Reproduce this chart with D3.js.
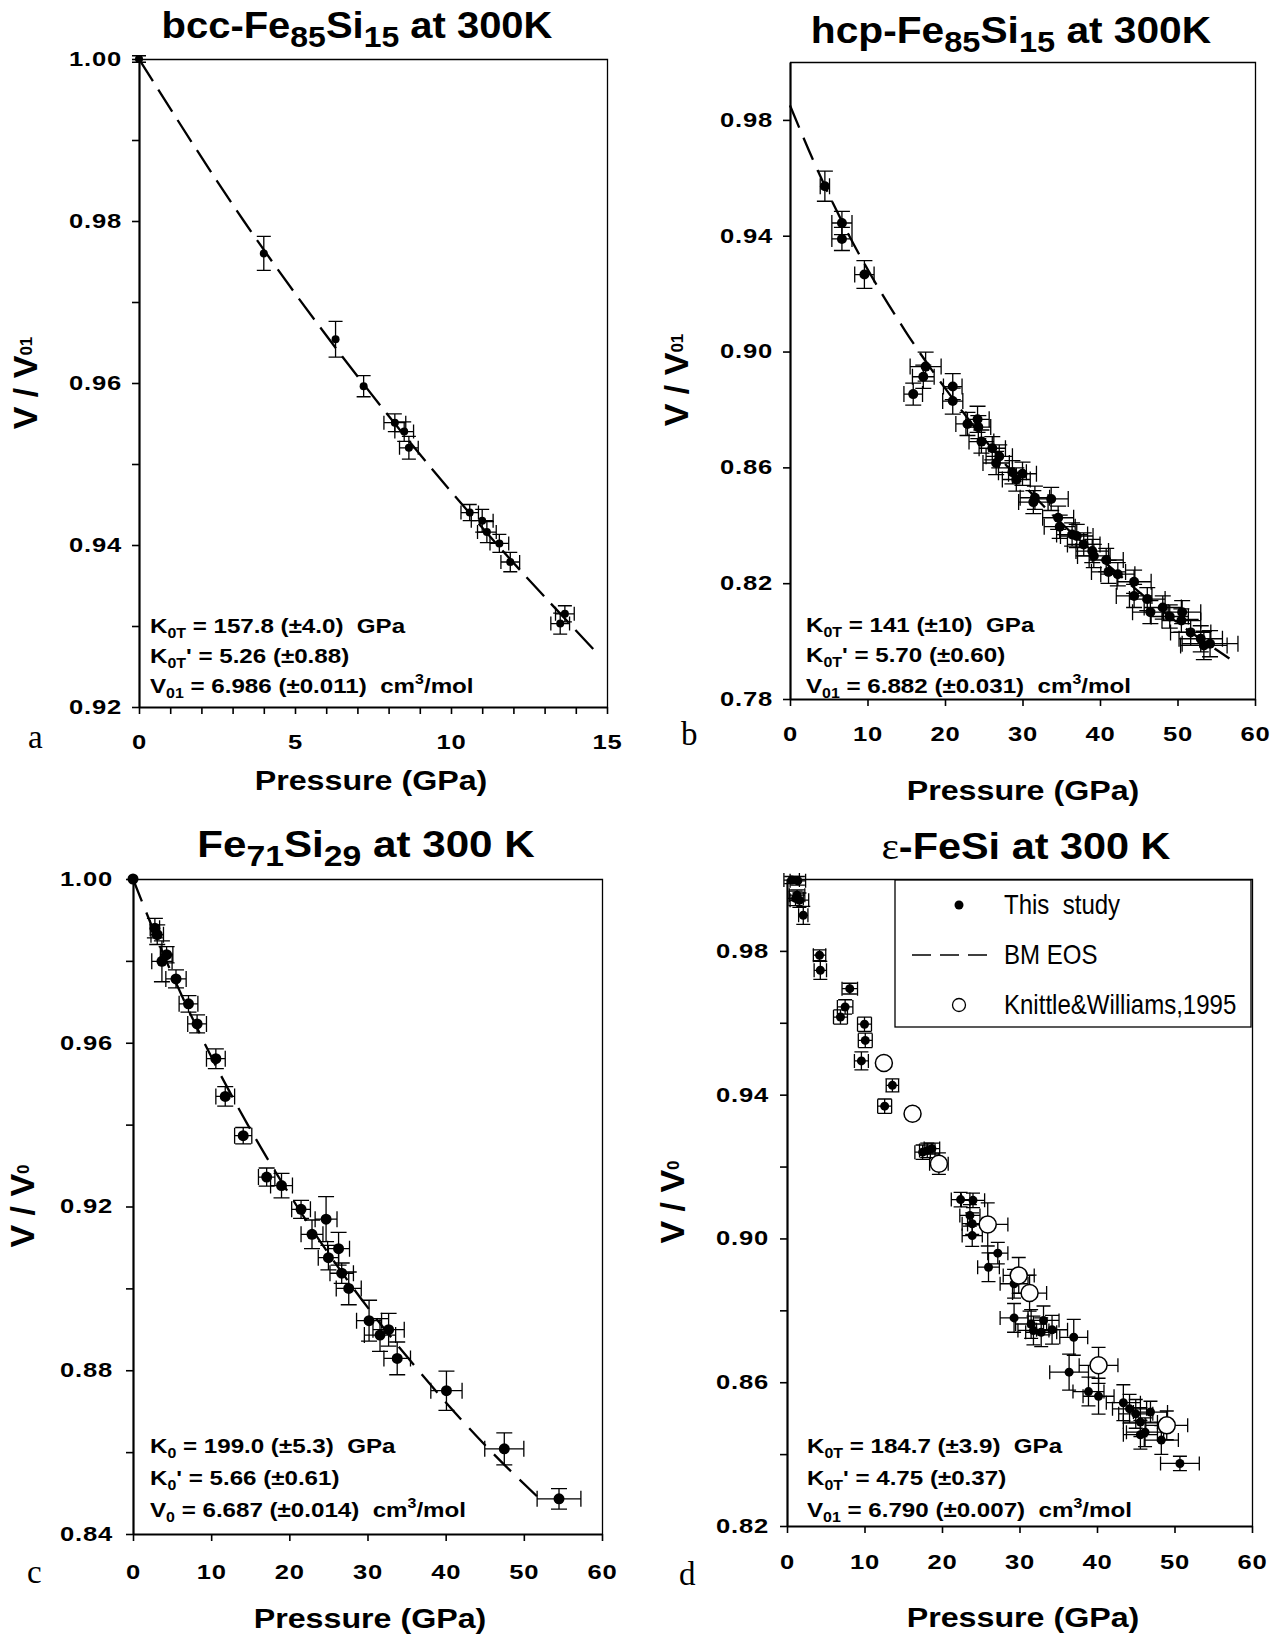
<!DOCTYPE html>
<html>
<head>
<meta charset="utf-8">
<script src="https://cdn.jsdelivr.net/npm/d3@7"></script>
<style>
  html, body { margin: 0; padding: 0; background: #fff; }
  svg { display: block; }
</style>
</head>
<body>
<script>
// ---------------- bcc-Fe85Si15 (panel a) ----------------
const bccP    = [0, 4.0, 6.3, 7.2, 8.2, 8.5, 8.65, 10.6, 11.0, 11.15, 11.55, 11.9, 13.5, 13.65];
const bccV    = [1.0000, 0.9760, 0.9654, 0.9596, 0.9551, 0.9540, 0.9520, 0.9440, 0.9430, 0.9416, 0.9402, 0.9379, 0.9303, 0.9315];
const bccPErr = [0, 0, 0, 0, 0.35, 0.3, 0.3, 0.28, 0.35, 0.3, 0.3, 0.3, 0.3, 0.3];
const bccVErr = [0.0004, 0.0021, 0.0022, 0.0013, 0.0011, 0.0012, 0.0014, 0.0010, 0.0014, 0.0013, 0.0011, 0.0012, 0.0013, 0.0010];
const bccFitP = [0, 3.36, 7.17, 11.49, 13.87, 14.6];
const bccFitV = [1.000, 0.980, 0.960, 0.940, 0.930, 0.927];
const bccXTicks = [0, 5, 10, 15];
const bccXMinor = [1, 2, 3, 4, 6, 7, 8, 9, 11, 12, 13, 14];
const bccYTicks = [0.92, 0.94, 0.96, 0.98, 1.00];
const bccYMinor = [0.93, 0.95, 0.97, 0.99];

// ---------------- hcp-Fe85Si15 (panel b) ----------------
const hcpP = [4.5, 6.7, 6.7, 9.6, 15.9, 17.2, 17.5, 21.0, 21.0, 24.2, 22.9, 24.3, 24.7, 26.1, 27.0, 26.6, 28.7, 30.0, 29.2, 31.6, 31.4, 33.7, 34.6, 34.8, 36.4, 37.0, 37.9, 39.0, 39.2, 40.8, 41.1, 42.3, 44.4, 44.4, 46.1, 46.5, 48.1, 49.0, 50.6, 50.5, 51.7, 53.0, 53.4, 54.2];
const hcpV = [0.9571, 0.9444, 0.9389, 0.9266, 0.8853, 0.8913, 0.8948, 0.8879, 0.8829, 0.8766, 0.8750, 0.8739, 0.8689, 0.8666, 0.8638, 0.8615, 0.8583, 0.8578, 0.8558, 0.8495, 0.8480, 0.8491, 0.8426, 0.8395, 0.8368, 0.8363, 0.8334, 0.8311, 0.8294, 0.8280, 0.8239, 0.8231, 0.8205, 0.8156, 0.8145, 0.8100, 0.8116, 0.8085, 0.8100, 0.8071, 0.8030, 0.8008, 0.7985, 0.7991];
const hcpPErr = [0.6, 1.3, 1.3, 1.25, 1.2, 1.4, 2.0, 1.2, 1.3, 1.5, 1.5, 1.6, 1.6, 1.7, 1.7, 1.7, 1.8, 1.8, 1.8, 1.9, 1.9, 2.2, 2.0, 2.0, 2.0, 2.1, 2.1, 2.1, 2.1, 2.2, 2.2, 2.2, 2.2, 2.3, 2.3, 2.3, 2.4, 2.4, 2.4, 2.5, 2.6, 2.8, 3.0, 3.6];
const hcpVErr = [0.0052, 0.004, 0.004, 0.0048, 0.0038, 0.004, 0.005, 0.0045, 0.0045, 0.0045, 0.004, 0.004, 0.004, 0.004, 0.004, 0.004, 0.004, 0.004, 0.004, 0.004, 0.004, 0.004, 0.004, 0.004, 0.004, 0.004, 0.004, 0.004, 0.004, 0.004, 0.004, 0.004, 0.004, 0.004, 0.004, 0.004, 0.004, 0.004, 0.004, 0.004, 0.0045, 0.0045, 0.0049, 0.0045];
const hcpFitP = [0, 3.0, 6.5, 14.9, 20.1, 25.9, 32.6, 40.3, 49.2, 56.7];
const hcpFitV = [0.985, 0.966, 0.946, 0.907, 0.887, 0.867, 0.847, 0.828, 0.808, 0.794];
const hcpXTicks = [0, 10, 20, 30, 40, 50, 60];
const hcpYTicks = [0.78, 0.82, 0.86, 0.90, 0.94, 0.98];

// ---------------- Fe71Si29 (panel c) ----------------
const fsP = [0, 2.8, 3.1, 4.3, 3.7, 5.5, 7.1, 8.2, 10.6, 11.8, 14.1, 17.1, 19.0, 21.5, 24.7, 22.9, 26.3, 25.0, 26.7, 27.6, 30.2, 31.6, 32.7, 33.8, 40.1, 47.5, 54.5];
const fsV = [1.0000, 0.9880, 0.9864, 0.9815, 0.9799, 0.9756, 0.9695, 0.9646, 0.9561, 0.9469, 0.9373, 0.9272, 0.9251, 0.9193, 0.9169, 0.9132, 0.9097, 0.9075, 0.9037, 0.9000, 0.8921, 0.8886, 0.8899, 0.8829, 0.8750, 0.8608, 0.8486];
const fsPErr = [0, 0.6, 0.8, 0.8, 1.3, 1.3, 1.2, 1.2, 1.2, 1.2, 1.1, 1.05, 1.4, 1.2, 1.4, 1.4, 1.4, 1.3, 1.5, 1.6, 1.6, 2.0, 2.0, 1.7, 2.0, 2.5, 2.8];
const fsVErr = [0, 0.0024, 0.0024, 0.002, 0.005, 0.0022, 0.002, 0.0022, 0.0024, 0.0024, 0.002, 0.0022, 0.003, 0.0022, 0.0055, 0.0035, 0.004, 0.003, 0.0025, 0.004, 0.005, 0.004, 0.004, 0.004, 0.0048, 0.0039, 0.0025];
const fsFitP = [0, 4.26, 9.12, 14.67, 21.0, 28.2, 36.5, 45.9, 51.8];
const fsFitV = [1.00, 0.98, 0.96, 0.94, 0.92, 0.90, 0.88, 0.86, 0.849];
const fsXTicks = [0, 10, 20, 30, 40, 50, 60];
const fsYTicks = [0.84, 0.88, 0.92, 0.96, 1.00];
const fsYMinor = [0.86, 0.90, 0.94, 0.98];

// ---------------- ε-FeSi (panel d) ----------------
const esP = [0.6, 1.4, 1.1, 1.6, 1.3, 2.1, 4.2, 4.3, 8.1, 6.9, 7.5, 10.0, 10.1, 9.6, 13.6, 12.6, 17.5, 18.1, 18.7, 22.4, 24.0, 23.6, 23.9, 23.9, 27.2, 26.0, 29.3, 29.3, 31.5, 33.1, 32.8, 34.2, 31.8, 37.0, 36.4, 38.9, 40.2, 43.4, 44.2, 45.0, 45.6, 46.2, 45.6, 46.9, 48.3, 50.7];
const esV = [0.9997, 0.9995, 0.9946, 0.9941, 0.9955, 0.9899, 0.9788, 0.9746, 0.9695, 0.9616, 0.9644, 0.9596, 0.9551, 0.9494, 0.9426, 0.9368, 0.9240, 0.9245, 0.9250, 0.9108, 0.9106, 0.9064, 0.9041, 0.9008, 0.8959, 0.8920, 0.8874, 0.8779, 0.8762, 0.8772, 0.8739, 0.8746, 0.8744, 0.8725, 0.8628, 0.8574, 0.8561, 0.8543, 0.8526, 0.8512, 0.8489, 0.8461, 0.8454, 0.8517, 0.8439, 0.8374];
const esPErr = [1.0, 1.0, 1.0, 1.2, 1.0, 0.6, 0.8, 0.8, 1.0, 0.9, 1.0, 0.9, 0.9, 0.9, 0.8, 0.9, 1.0, 1.0, 1.0, 1.2, 1.5, 1.3, 1.3, 1.3, 1.3, 1.4, 1.8, 1.8, 2.0, 2.0, 2.0, 2.0, 2.0, 1.8, 2.5, 2.0, 2.0, 2.2, 2.2, 2.2, 2.2, 2.4, 2.2, 2.2, 2.2, 2.5];
const esVErr = [0.001, 0.0012, 0.002, 0.002, 0.0015, 0.0025, 0.0015, 0.0025, 0.0015, 0.002, 0.002, 0.002, 0.002, 0.0025, 0.0018, 0.002, 0.002, 0.002, 0.0015, 0.002, 0.002, 0.003, 0.003, 0.003, 0.003, 0.004, 0.004, 0.004, 0.004, 0.004, 0.004, 0.004, 0.004, 0.005, 0.005, 0.004, 0.005, 0.005, 0.004, 0.004, 0.004, 0.004, 0.004, 0.003, 0.004, 0.002];
// Knittle & Williams (1995)
const kwP = [12.5, 16.2, 19.6, 25.9, 29.9, 31.3, 40.2, 49.0];
const kwV = [0.9488, 0.9347, 0.9208, 0.9039, 0.8897, 0.8848, 0.8647, 0.8480];
const kwPErr = [0.6, 0, 1.2, 2.6, 2.0, 2.2, 2.5, 2.7];
const kwVErr = [0.0015, 0.0015, 0.003, 0.006, 0.005, 0.005, 0.005, 0.004];
const esXTicks = [0, 10, 20, 30, 40, 50, 60];
const esYTicks = [0.82, 0.86, 0.90, 0.94, 0.98];
const esYMinor = [0.84, 0.88, 0.92, 0.96];
const esLegend = ["This  study", "BM EOS", "Knittle&Williams,1995"];

// ---------------- text content ----------------
const bccTitle = [["bcc-Fe"], ["85", "sub"], ["Si"], ["15", "sub"], [" at 300K"]];
const hcpTitle = [["hcp-Fe"], ["85", "sub"], ["Si"], ["15", "sub"], [" at 300K"]];
const fsTitle  = [["Fe"], ["71", "sub"], ["Si"], ["29", "sub"], [" at 300 K"]];
const esTitle  = [["ε", "serif"], ["-FeSi at 300 K"]];

const bccNotes = [
  [["K"], ["0T", "sub"], [" = 157.8 (±4.0)  GPa"]],
  [["K"], ["0T", "sub"], ["' = 5.26 (±0.88)"]],
  [["V"], ["01", "sub"], [" = 6.986 (±0.011)  cm"], ["3", "sup"], ["/mol"]]
];
const hcpNotes = [
  [["K"], ["0T", "sub"], [" = 141 (±10)  GPa"]],
  [["K"], ["0T", "sub"], ["' = 5.70 (±0.60)"]],
  [["V"], ["01", "sub"], [" = 6.882 (±0.031)  cm"], ["3", "sup"], ["/mol"]]
];
const fsNotes = [
  [["K"], ["0", "sub"], [" = 199.0 (±5.3)  GPa"]],
  [["K"], ["0", "sub"], ["' = 5.66 (±0.61)"]],
  [["V"], ["0", "sub"], [" = 6.687 (±0.014)  cm"], ["3", "sup"], ["/mol"]]
];
const esNotes = [
  [["K"], ["0T", "sub"], [" = 184.7 (±3.9)  GPa"]],
  [["K"], ["0T", "sub"], ["' = 4.75 (±0.37)"]],
  [["V"], ["01", "sub"], [" = 6.790 (±0.007)  cm"], ["3", "sup"], ["/mol"]]
];
const xAxisTitle = "Pressure (GPa)";

// ---------------- drawing ----------------
const FONT = '"Liberation Sans", Arial, Helvetica, sans-serif';
const SERIF = '"Liberation Serif", "Times New Roman", serif';

const svg = d3.select("body").append("svg")
  .attr("width", 1281).attr("height", 1638)
  .style("background", "#fff");

// horizontal widening of a text element about its own x anchor
function widen(sel, k) {
  sel.each(function () {
    const t = d3.select(this);
    const x = +(t.attr("x") || 0);
    t.attr("transform", `translate(${x},0) scale(${k},1) translate(${-x},0)`);
  });
}

function richText(parent, x, y, parts, o) {
  const t = parent.append("text")
    .attr("x", x).attr("y", y)
    .attr("font-family", FONT)
    .attr("font-weight", o.weight || "bold")
    .attr("font-size", o.size)
    .attr("text-anchor", o.anchor || "start")
    .attr("fill", "#000")
    .style("white-space", "pre");
  if (o.spacing) t.attr("letter-spacing", o.spacing);
  let shift = 0;
  parts.forEach(([s, kind]) => {
    const target = kind === "sub" ? o.subDy : kind === "sup" ? -o.supDy : 0;
    const ts = t.append("tspan").text(s).attr("dy", target - shift);
    if (kind === "sub" || kind === "sup") ts.attr("font-size", o.size * (o.subScale || 0.68));
    if (kind === "serif") ts.attr("font-family", SERIF).attr("font-weight", "normal");
    shift = target;
  });
  widen(t, o.stretch || 1);
  return t;
}

function drawPanel(p) {
  const g = svg.append("g");
  const { l, r, t, b } = p.box;
  const x = d3.scaleLinear().domain(p.xDomain).range([l, r]);
  const y = d3.scaleLinear().domain(p.yDomain).range([b, t]);

  // frame (top + right)
  g.append("path")
    .attr("d", `M${l},${t + 0.5}H${r + 0.5}V${b}`)
    .attr("fill", "none").attr("stroke", "#000").attr("stroke-width", 1.3);

  // y axis
  const yTickVals = p.yMajor.concat(p.yMinor || []);
  const yAx = g.append("g").attr("transform", `translate(${l},0)`)
    .call(d3.axisLeft(y).tickValues(yTickVals).tickSize(7).tickSizeOuter(0).tickPadding(p.yPad)
      .tickFormat(v => p.yMajor.includes(v) ? d3.format(".2f")(v) : ""));
  // x axis
  const xTickVals = p.xMajor.concat(p.xMinor || []);
  const xAx = g.append("g").attr("transform", `translate(0,${b})`)
    .call(d3.axisBottom(x).tickValues(xTickVals).tickSize(7).tickSizeOuter(0).tickPadding(p.xPad)
      .tickFormat(v => p.xMajor.includes(v) ? d3.format("d")(v) : ""));

  [yAx, xAx].forEach(ax => {
    ax.attr("font-family", FONT).attr("font-size", 20).attr("font-weight", "bold");
    ax.select(".domain").attr("stroke-width", 2.2);
    ax.selectAll(".tick line").attr("stroke-width", 1.6);
    ax.selectAll(".tick text").attr("letter-spacing", 0.6).attr("fill", "#000");
    widen(ax.selectAll(".tick text"), 1.28);
  });

  // fitted BM EOS curve
  if (p.fitP) {
    const line = d3.line().x(d => x(d[0])).y(d => y(d[1])).curve(d3.curveMonotoneX);
    g.append("path").datum(d3.zip(p.fitP, p.fitV))
      .attr("d", line).attr("fill", "none")
      .attr("stroke", "#000").attr("stroke-width", 2.3)
      .attr("stroke-dasharray", p.dash);
  }

  // data series with error bars
  p.series.forEach(s => {
    const pts = s.P.map((v, i) => ({ p: v, v: s.V[i], pe: s.PErr[i], ve: s.VErr[i] }));
    const c = s.cap;
    g.append("g").selectAll("path").data(pts).join("path")
      .attr("fill", "none").attr("stroke", "#000").attr("stroke-width", 1.3)
      .attr("d", d => {
        const cx = x(d.p), cy = y(d.v);
        let s2 = "";
        if (d.ve > 0) {
          const y1 = y(d.v + d.ve), y2 = y(d.v - d.ve);
          s2 += `M${cx},${y1}V${y2}M${cx - c},${y1}H${cx + c}M${cx - c},${y2}H${cx + c}`;
        }
        if (d.pe > 0) {
          const x1 = x(d.p - d.pe), x2 = x(d.p + d.pe);
          s2 += `M${x1},${cy}H${x2}M${x1},${cy - c}V${cy + c}M${x2},${cy - c}V${cy + c}`;
        }
        return s2;
      });
    g.append("g").selectAll("circle").data(pts).join("circle")
      .attr("cx", d => x(d.p)).attr("cy", d => y(d.v)).attr("r", s.r)
      .attr("fill", s.open ? "#fff" : "#000")
      .attr("stroke", "#000").attr("stroke-width", s.open ? 1.5 : 0);
  });

  // title
  richText(g, p.titleAt[0], p.titleAt[1], p.title,
    { size: 37, anchor: "middle", subDy: 9, subScale: 0.8, stretch: p.titleStretch });

  // fit parameters
  p.notes.forEach((line, i) => {
    richText(g, p.notesAt[0], p.notesAt[1] + i * p.notesAt[2], line,
      { size: 21, subDy: 5, supDy: 9, subScale: 0.66, stretch: 1.15 });
  });

  // axis titles
  richText(g, p.xlabAt[0], p.xlabAt[1], [[xAxisTitle]], { size: 28, anchor: "middle", stretch: 1.15 });
  const yl = g.append("text")
    .attr("transform", `translate(${p.ylabAt[0]},${p.ylabAt[1]}) rotate(-90)`)
    .attr("text-anchor", "middle").attr("dy", "0.36em")
    .attr("font-family", FONT).attr("font-weight", "bold").attr("font-size", 34)
    .style("white-space", "pre");
  yl.append("tspan").text("V / V");
  yl.append("tspan").text(p.ylabSub).attr("font-size", 17).attr("dy", -5);

  // panel letter
  g.append("text").attr("x", p.letterAt[0]).attr("y", p.letterAt[1])
    .attr("font-family", SERIF).attr("font-size", 33).text(p.letter);

  return { g, x, y };
}

drawPanel({
  box: { l: 139, r: 607, t: 59, b: 707 }, xDomain: [0, 15], yDomain: [0.92, 1.00],
  xMajor: bccXTicks, xMinor: bccXMinor, yMajor: bccYTicks, yMinor: bccYMinor, yPad: 10, xPad: 21,
  series: [{ P: bccP, V: bccV, PErr: bccPErr, VErr: bccVErr, r: 4, cap: 7 }],
  fitP: bccFitP, fitV: bccFitV, dash: "26,10",
  title: bccTitle, titleAt: [357, 38], titleStretch: 1.08,
  notes: bccNotes, notesAt: [150, 633, 30],
  xlabAt: [371, 790], ylabAt: [25, 383], ylabSub: "01",
  letter: "a", letterAt: [28, 748]
});

drawPanel({
  box: { l: 790, r: 1255, t: 62, b: 699 }, xDomain: [0, 60], yDomain: [0.78, 1.00],
  xMajor: hcpXTicks, yMajor: hcpYTicks, yPad: 10, xPad: 21,
  series: [{ P: hcpP, V: hcpV, PErr: hcpPErr, VErr: hcpVErr, r: 5, cap: 8 }],
  fitP: hcpFitP, fitV: hcpFitV, dash: "24,11",
  title: hcpTitle, titleAt: [1011, 43], titleStretch: 1.10,
  notes: hcpNotes, notesAt: [806, 632, 30.5],
  xlabAt: [1023, 800], ylabAt: [675.5, 380], ylabSub: "01",
  letter: "b", letterAt: [681, 745]
});

drawPanel({
  box: { l: 133, r: 602, t: 879, b: 1534 }, xDomain: [0, 60], yDomain: [0.84, 1.00],
  xMajor: fsXTicks, yMajor: fsYTicks, yMinor: fsYMinor, yPad: 13, xPad: 24,
  series: [{ P: fsP, V: fsV, PErr: fsPErr, VErr: fsVErr, r: 5.5, cap: 8 }],
  fitP: fsFitP, fitV: fsFitV, dash: "24,12",
  title: fsTitle, titleAt: [366, 857], titleStretch: 1.14,
  notes: fsNotes, notesAt: [150, 1453, 32],
  xlabAt: [370, 1628], ylabAt: [22, 1206], ylabSub: "0",
  letter: "c", letterAt: [27, 1583]
});

const d = drawPanel({
  box: { l: 787, r: 1252, t: 879, b: 1526 }, xDomain: [0, 60], yDomain: [0.82, 1.00],
  xMajor: esXTicks, yMajor: esYTicks, yMinor: esYMinor, yPad: 11, xPad: 22,
  series: [
    { P: esP, V: esV, PErr: esPErr, VErr: esVErr, r: 4.5, cap: 7 },
    { P: kwP, V: kwV, PErr: kwPErr, VErr: kwVErr, r: 8.5, cap: 7, open: true }
  ],
  title: esTitle, titleAt: [1026, 859], titleStretch: 1.12,
  notes: esNotes, notesAt: [807, 1453, 32],
  xlabAt: [1023, 1627], ylabAt: [672, 1202], ylabSub: "0",
  letter: "d", letterAt: [679, 1585]
});

// legend for panel d
const lg = d.g.append("g");
lg.append("rect").attr("x", 895).attr("y", 880).attr("width", 356).attr("height", 147)
  .attr("fill", "#fff").attr("stroke", "#000").attr("stroke-width", 1.3);
const rows = [905, 955, 1005];
lg.append("circle").attr("cx", 959).attr("cy", rows[0]).attr("r", 4.5).attr("fill", "#000");
lg.append("path").attr("d", `M912,${rows[1]}H988`).attr("stroke", "#000")
  .attr("stroke-width", 1.3).attr("stroke-dasharray", "19,9");
lg.append("circle").attr("cx", 959).attr("cy", rows[2]).attr("r", 6.5)
  .attr("fill", "#fff").attr("stroke", "#000").attr("stroke-width", 1.3);
esLegend.forEach((label, i) => {
  richText(lg, 1004, rows[i] + 9, [[label]], { size: 27, weight: "normal", stretch: 0.89 });
});
</script>
</body>
</html>
